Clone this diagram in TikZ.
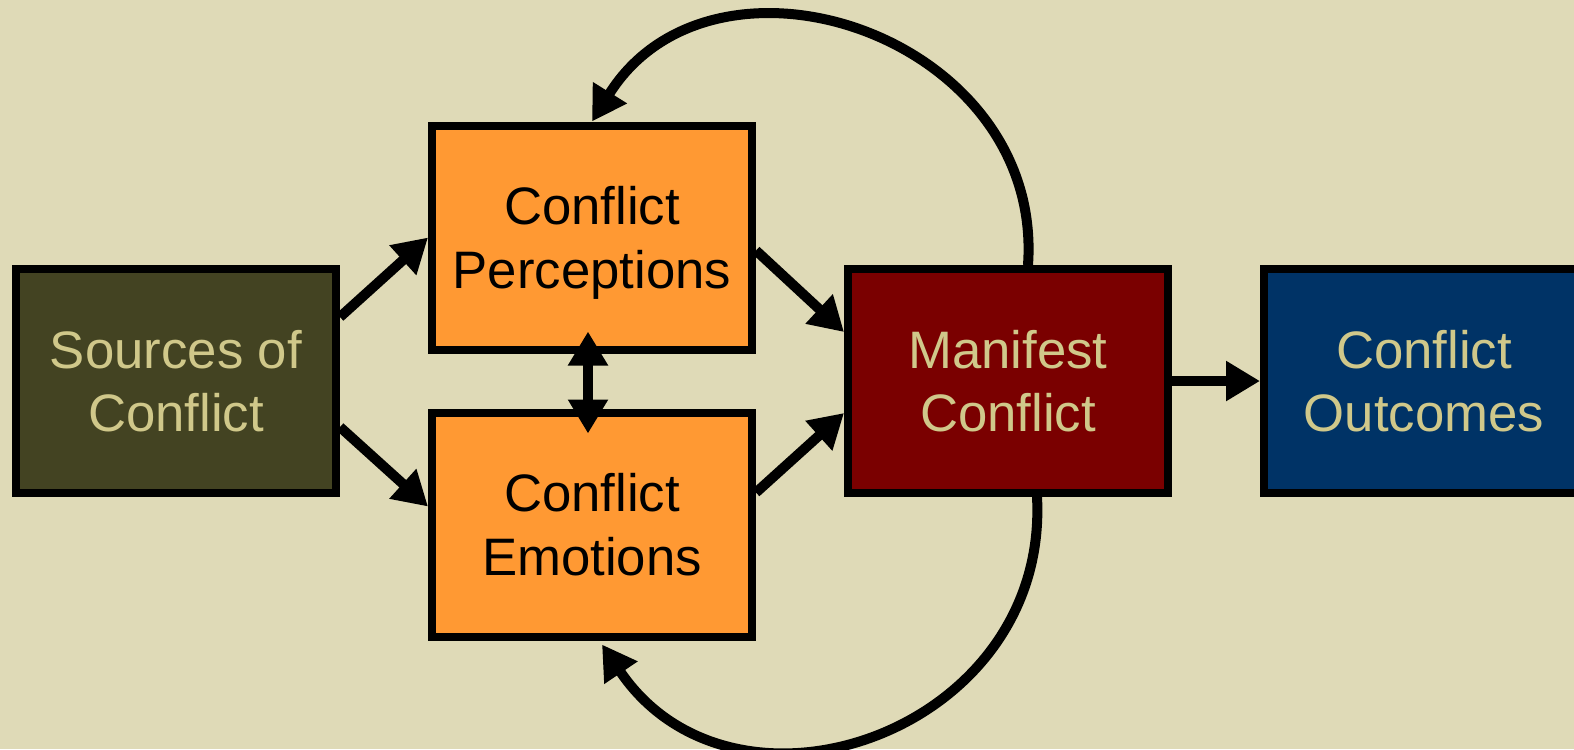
\documentclass[tikz,border=0pt]{standalone}
\usepackage{fontspec}
\setmainfont{Liberation Sans}
\usetikzlibrary{arrows.meta}

\definecolor{bgbeige}{HTML}{DFDAB7}
\definecolor{srcolive}{HTML}{434322}
\definecolor{perorange}{HTML}{FF9933}
\definecolor{mandred}{HTML}{7A0000}
\definecolor{outnavy}{HTML}{003366}
\definecolor{paletext}{HTML}{D0C88A}

\tikzset{
  box/.style={draw=black, line width=0.08cm, minimum width=3.2cm, minimum height=2.24cm,
    align=center, text depth=0pt, font=\fontsize{15}{18}\selectfont},
  arr/.style={line width=0.1cm, -{Triangle[length=0.34cm,width=0.38cm]}},
  dblarr/.style={line width=0.1cm, {Triangle[length=0.34cm,width=0.38cm]}-{Triangle[length=0.34cm,width=0.38cm]}}
}

\begin{document}
\begin{tikzpicture}
    \fill[bgbeige] (0,0) rectangle (15.74,-7.49);
    \useasboundingbox (0,0) rectangle (15.74,-7.49);
    \node[box, fill=srcolive, text=paletext] (src) at (1.76,-3.81) {Sources of\\Conflict};
    \node[box, fill=perorange] (perc) at (5.92,-2.375) {Conflict\\Perceptions};
    \node[box, fill=perorange] (emo) at (5.92,-5.245) {Conflict\\Emotions};
    \node[box, fill=mandred, text=paletext] (man) at (10.08,-3.81) {Manifest\\Conflict};
    \node[box, fill=outnavy, text=paletext] (out) at (14.24,-3.81) {Conflict\\Outcomes};
    \draw[arr] ([yshift=0.64cm]src.east) -- (perc.west);
    \draw[arr] ([yshift=-0.46cm]src.east) -- ([yshift=0.18cm]emo.west);
    \draw[arr] ([yshift=-0.13cm]perc.east) -- ([yshift=0.49cm]man.west);
    \draw[arr] ([yshift=0.32cm]emo.east) -- ([yshift=-0.32cm]man.west);
    \draw[dblarr] ([xshift=-0.04cm,yshift=0.22cm]perc.south) -- ([xshift=-0.04cm,yshift=-0.25cm]emo.north);
    \draw[arr] (man.east) -- (out.west);
    % feedback loops
    \draw[arr] ([xshift=0.2cm]man.north) .. controls +(86:2.3) and +(58:2.3) .. (perc.north);
    \draw[arr] ([xshift=0.29cm]man.south) .. controls +(-87:2.36) and +(-56:2.36) .. ([xshift=0.1cm,yshift=-0.04cm]emo.south);
\end{tikzpicture}
\end{document}
